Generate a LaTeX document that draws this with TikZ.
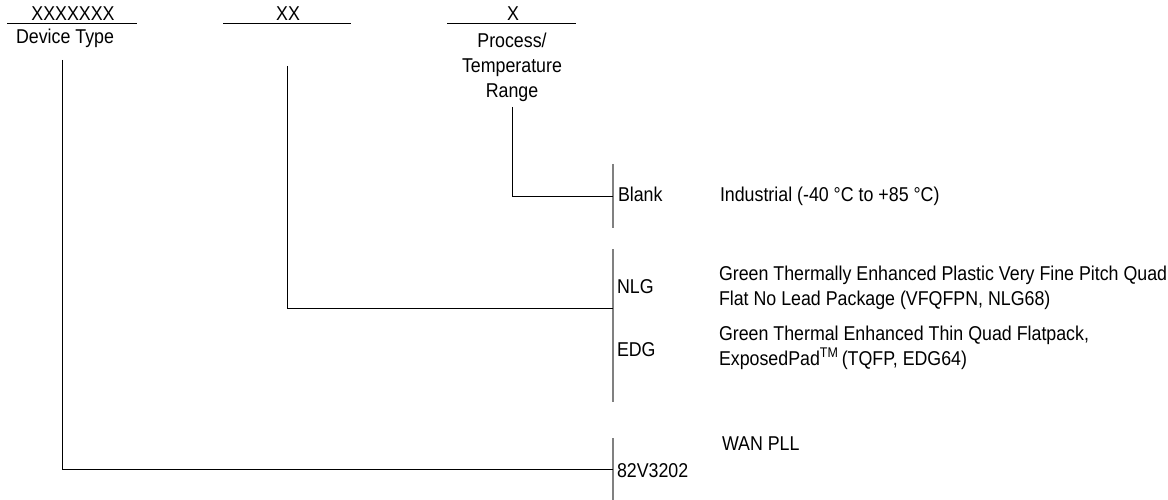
\documentclass[tikz,border=0pt]{standalone}
\usepackage{fontspec}
\setmainfont{Liberation Sans}[FakeStretch=0.89]
\begin{document}
\begin{tikzpicture}[x=1pt,y=-1pt,
  txt/.style={inner sep=0pt,outer sep=0pt,font=\fontsize{20}{25}\selectfont},
  lbl/.style={txt,anchor=base west},
  ttl/.style={txt,anchor=base},
  conn/.style={draw=black,line width=0.8pt},
  uline/.style={draw=black,line width=0.8pt},
  barline/.style={draw=black!50,line width=1.4pt}]
\useasboundingbox[fill=white] (0,0) rectangle (1168,500);

% header underlines
\coordinate (u1a) at (7,23);   \coordinate (u1b) at (137,23);
\coordinate (u2a) at (223,23); \coordinate (u2b) at (351,23);
\coordinate (u3a) at (447,23); \coordinate (u3b) at (576,23);
\draw[uline] (u1a) -- (u1b);
\draw[uline] (u2a) -- (u2b);
\draw[uline] (u3a) -- (u3b);

\node[ttl] (t1) at (73,21) {XXXXXXX};
\node[ttl] (t2) at (288,21) {XX};
\node[ttl] (t3) at (513,21) {X};
\node[ttl] (devtype) at (65,44) {Device Type};
\node[txt,anchor=north,align=center] (proc) at (512,33) {Process/\\Temperature\\Range};

% vertical bars
\coordinate (b1t) at (613,164); \coordinate (b1b) at (613,228);
\coordinate (b2t) at (613,249); \coordinate (b2b) at (613,402);
\coordinate (b3t) at (613,438); \coordinate (b3b) at (613,500);
\draw[barline] (b1t) -- (b1b);
\draw[barline] (b2t) -- (b2b);
\draw[barline] (b3t) -- (b3b);

% connector ends
\coordinate (dtA) at (62,60);   \coordinate (dtB) at (613,469);
\coordinate (xxA) at (287,66);  \coordinate (xxB) at (613,308);
\coordinate (prA) at (512,107); \coordinate (prB) at (613,196);
\draw[conn] (dtA) |- (dtB);
\draw[conn] (xxA) |- (xxB);
\draw[conn] (prA) |- (prB);

% codes
\node[lbl] (blank) at (618,201) {Blank};
\node[lbl] (nlg) at (617,293) {NLG};
\node[lbl] (edg) at (617,356) {EDG};
\node[lbl] (dev) at (617,477) {82V3202};

% descriptions
\node[lbl] (dind) at (720,201) {Industrial (-40 °C to +85 °C)};
\node[txt,anchor=north west,align=left] (dnlg) at (719,266)
  {Green Thermally Enhanced Plastic Very Fine Pitch Quad\\Flat No Lead Package (VFQFPN, NLG68)};
\node[txt,anchor=north west,align=left] (dedg) at (719,326)
  {Green Thermal Enhanced Thin Quad Flatpack,\\ExposedPad\textsuperscript{TM}\,(TQFP, EDG64)};
\node[lbl] (dwan) at (722,450) {WAN PLL};
\end{tikzpicture}
\end{document}
